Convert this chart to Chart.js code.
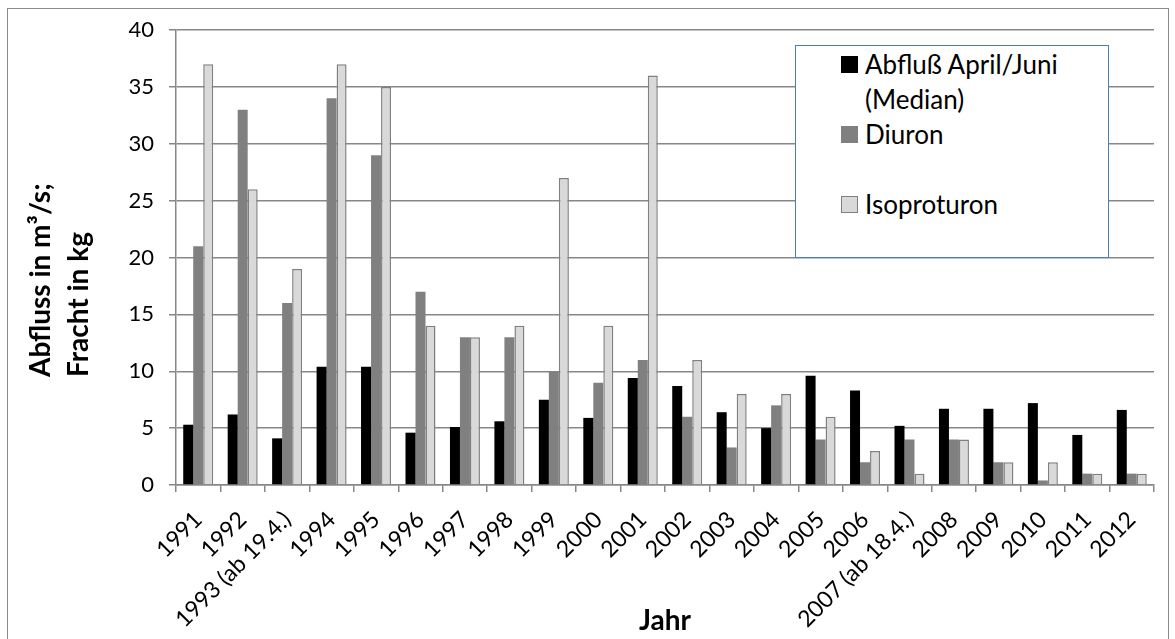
<!DOCTYPE html>
<html>
<head>
<meta charset="utf-8">
<script src="https://cdn.jsdelivr.net/npm/chart.js@4.4.1/dist/chart.umd.min.js"></script>
<style>
  body { margin: 0; background: #fff; font-family: Lato, sans-serif; }
  #wrap { position: relative; width: 1175px; height: 639px; overflow: hidden; }
  #frame { position: absolute; left: 7px; top: 8px; width: 1162px; height: 700px; border: 1.5px solid #8c8c8c; box-sizing: border-box; }
  #chart { position: absolute; left: 0; top: 0; }
  #ytitle { position: absolute; left: 20px; top: 377px; width: 260px; font: bold 28px Lato, sans-serif; line-height: 38px;
            white-space: pre; transform-origin: 0 0; transform: rotate(-90deg); color: #000; }
  #legend { position: absolute; left: 795px; top: 45px; width: 314px; height: 213px; border: 1.5px solid #4a7ebb;
            box-sizing: border-box; background: #fff; padding: 1px 0 0 45px; font: 26px Lato, sans-serif; line-height: 35px; color: #000; }
  .item { display: flex; align-items: flex-start; }
  .item .sw { width: 17px; height: 17px; margin: 9px 7px 0 0; flex: none; box-sizing: border-box; }
  .item .tx { width: 225px; }
  .gap { height: 35px; }
</style>
</head>
<body>
<div id="wrap">
  <div id="frame"></div>
  <canvas id="chart" width="1175" height="639"></canvas>
  <div id="ytitle"></div>
  <div id="legend"></div>
</div>
<script>
var years = ['1991', '1992', '1993 (ab 19.4.)', '1994', '1995', '1996', '1997', '1998', '1999', '2000', '2001',
             '2002', '2003', '2004', '2005', '2006', '2007 (ab 18.4.)', '2008', '2009', '2010', '2011', '2012'];
var abfluss = [5.3, 6.2, 4.1, 10.4, 10.4, 4.6, 5.1, 5.6, 7.5, 5.9, 9.4, 8.7, 6.4, 5.0, 9.6, 8.3, 5.2, 6.7, 6.7, 7.2, 4.4, 6.6];
var diuron = [21, 33, 16, 34, 29, 17, 13, 13, 10, 9, 11, 6, 3.3, 7, 4, 2, 4, 4, 2, 0.4, 1, 1];
var isoproturon = [37, 26, 19, 37, 35, 14, 13, 14, 27, 14, 36, 11, 8, 8, 6, 3, 1, 4, 2, 2, 1, 1];
var seriesNames = ['Abfluß April/Juni (Median)', 'Diuron', 'Isoproturon'];
var yTicks = [0, 5, 10, 15, 20, 25, 30, 35, 40];
var yTitle = ['Abfluss in m³/s;', 'Fracht in kg'];
var xTitle = 'Jahr';

var gridColor = '#878787';

var datasets = [
    { label: seriesNames[0], data: abfluss, backgroundColor: '#000000', borderWidth: 0 },
    { label: seriesNames[1], data: diuron, backgroundColor: '#808080', borderWidth: 0 },
    { label: seriesNames[2], data: isoproturon, backgroundColor: '#d9d9d9', borderColor: '#808080', borderWidth: 1.5 }
];

var chart = new Chart(document.getElementById('chart'), {
    type: 'bar',
    data: { labels: years, datasets: datasets },
    options: {
        responsive: false,
        animation: false,
        layout: { padding: { left: 0, right: 21, top: 30, bottom: 0 } },
        plugins: { legend: { display: false }, tooltip: { enabled: false } },
        datasets: { bar: { categoryPercentage: 0.675, barPercentage: 1 } },
        scales: {
            x: {
                grid: { drawOnChartArea: false, drawTicks: true, tickLength: 7, color: gridColor, lineWidth: 1.5 },
                border: { color: gridColor, width: 1.5 },
                ticks: { color: '#000', font: { family: 'Lato', size: 23 }, minRotation: 45, maxRotation: 45, padding: 14, autoSkip: false },
                title: { display: true, text: xTitle, color: '#000', font: { family: 'Lato', size: 28, weight: 'bold' }, padding: { top: 0, bottom: 1 } },
                afterFit: function(scale) { scale.height = 154; }
            },
            y: {
                min: 0,
                max: 40,
                afterBuildTicks: function(scale) {
                    scale.ticks = yTicks.map(function(v) { return { value: v }; });
                },
                grid: { color: gridColor, lineWidth: 1.5, tickLength: 7 },
                border: { color: gridColor, width: 1.5 },
                ticks: { color: '#000', font: { family: 'Lato', size: 22 }, padding: 15 },
                afterFit: function(scale) { scale.width = 176; }
            }
        }
    }
});

// axis title on the left, bottom aligned like in the original
document.getElementById('ytitle').textContent = yTitle.join('\n');

// legend box inside the plot
var legend = document.getElementById('legend');
datasets.forEach(function(ds, i) {
    if (i == 2) {
        var gap = document.createElement('div');
        gap.className = 'gap';
        legend.appendChild(gap);
    }
    var item = document.createElement('div');
    item.className = 'item';
    var sw = document.createElement('span');
    sw.className = 'sw';
    sw.style.background = ds.backgroundColor;
    if (ds.borderWidth) sw.style.border = '1.5px solid ' + ds.borderColor;
    var tx = document.createElement('span');
    tx.className = 'tx';
    tx.textContent = ds.label;
    item.appendChild(sw);
    item.appendChild(tx);
    legend.appendChild(item);
});
</script>
</body>
</html>
